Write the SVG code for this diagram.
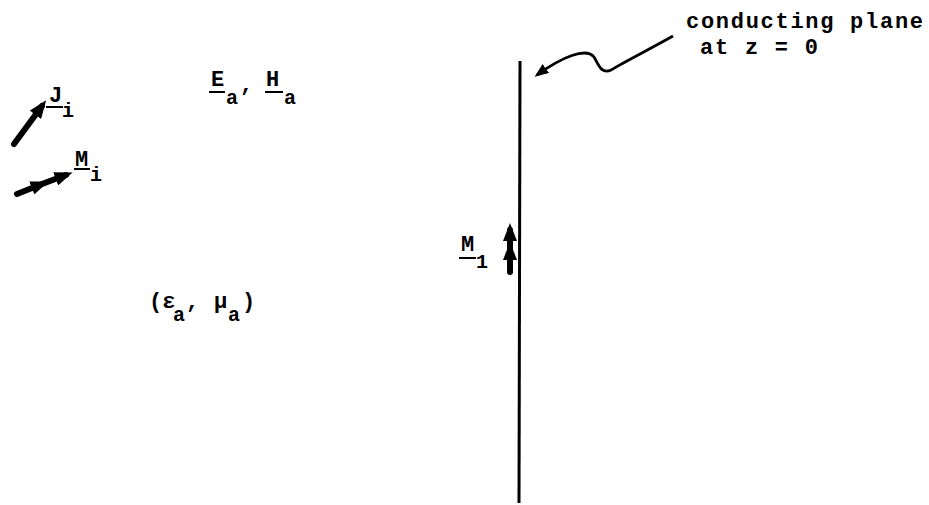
<svg xmlns="http://www.w3.org/2000/svg" width="929" height="505" viewBox="0 0 929 505">
<style>
.t{font-family:"Liberation Mono","DejaVu Sans Mono",monospace;font-size:22px;font-weight:bold;fill:#000}
.s{font-family:"Liberation Mono","DejaVu Sans Mono",monospace;font-size:20px;font-weight:bold;fill:#000}
.u{stroke:#000;stroke-width:2}
.thick{stroke:#000;stroke-width:6;fill:none;stroke-linecap:round}
</style>
<defs>
<marker id="ah" viewBox="0 0 18 14" refX="11" refY="7" markerWidth="18" markerHeight="14" markerUnits="userSpaceOnUse" orient="auto">
<path d="M0,0 L18,7 L0,14 z" fill="#000"/>
</marker>
<marker id="ahs" viewBox="0 0 14 11" refX="11" refY="5.5" markerWidth="14" markerHeight="11" markerUnits="userSpaceOnUse" orient="auto">
<path d="M0,0 L14,5.5 L0,11 z" fill="#000"/>
</marker>
</defs>
<rect width="929" height="505" fill="#fff"/>
<g id="plane">
<line x1="520" y1="61" x2="519" y2="503" stroke="#000" stroke-width="3"/>
</g>
<g id="connectors">
<line class="thick" x1="14" y1="144" x2="42" y2="106" marker-end="url(#ah)"/>
<polyline class="thick" points="17,194 42,184 66,175" marker-mid="url(#ah)" marker-end="url(#ah)"/>
<polyline class="thick" points="510,272 510,249 510,230" marker-mid="url(#ah)" marker-end="url(#ah)" stroke-linecap="butt"/>
<path d="M673,36 C650,49 624,62 611,70 C601,75 598,63 594,57 C586,47 562,57 537,75" fill="none" stroke="#000" stroke-width="2.8" marker-end="url(#ahs)"/>
</g>
<g id="label-Ji">
<text class="t" x="49" y="102">J</text>
<line class="u" x1="46" y1="107" x2="63" y2="107"/>
<text class="s" x="62" y="117">i</text>
</g>
<g id="label-Mi">
<text class="t" x="75" y="166">M</text>
<line class="u" x1="74" y1="169" x2="90" y2="169"/>
<text class="s" x="90" y="181">i</text>
</g>
<g id="label-EaHa">
<text class="t" x="211" y="86">E</text>
<line class="u" x1="209" y1="92" x2="225" y2="92"/>
<text class="s" x="226" y="104">a</text>
<text class="t" x="240" y="91">,</text>
<text class="t" x="266" y="86">H</text>
<line class="u" x1="265" y1="92" x2="283" y2="92"/>
<text class="s" x="284" y="104">a</text>
</g>
<g id="label-eps-mu">
<text class="t" x="149" y="308">(ε</text>
<text class="s" x="173" y="321">a</text>
<text class="t" x="186" y="308">,</text>
<text class="t" x="214" y="308">μ</text>
<text class="s" x="228" y="321">a</text>
<text class="t" x="242" y="308">)</text>
</g>
<g id="label-M1">
<text class="t" x="461" y="251">M</text>
<line class="u" x1="459" y1="258" x2="476" y2="258"/>
<text class="s" x="476" y="268">1</text>
</g>
<g id="label-plane">
<text class="t" x="686" y="28" textLength="237" lengthAdjust="spacing">conducting plane</text>
<text class="t" x="700" y="54" textLength="118" lengthAdjust="spacing">at z = 0</text>
</g>
</svg>
